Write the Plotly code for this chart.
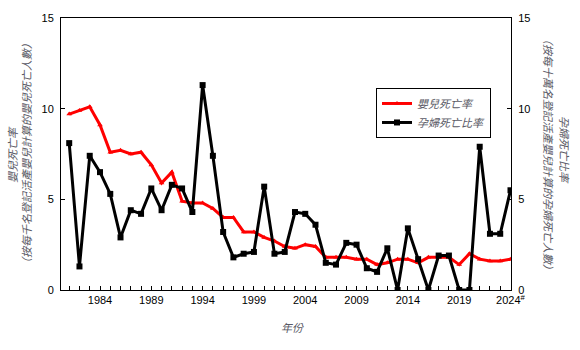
import plotly.graph_objects as go

years = list(range(1981, 2025))
infant = [9.7, 9.9, 10.1, 9.1, 7.6, 7.7, 7.5, 7.6, 6.9, 5.9,
          6.5, 4.9, 4.8, 4.8, 4.5, 4.0, 4.0, 3.2, 3.2, 2.9,
          2.7, 2.4, 2.3, 2.5, 2.4, 1.8, 1.8, 1.8, 1.7, 1.7,
          1.4, 1.5, 1.7, 1.7, 1.5, 1.8, 1.8, 1.8, 1.4, 2.0,
          1.7, 1.6, 1.6, 1.7]
maternal = [8.1, 1.3, 7.4, 6.5, 5.3, 2.9, 4.4, 4.2, 5.6, 4.4,
            5.8, 5.6, 4.3, 11.3, 7.4, 3.2, 1.8, 2.0, 2.1, 5.7,
            2.0, 2.1, 4.3, 4.2, 3.6, 1.5, 1.4, 2.6, 2.5, 1.2,
            1.0, 2.3, 0.0, 3.4, 1.7, 0.0, 1.9, 1.9, 0.0, 0.0,
            7.9, 3.1, 3.1, 5.5]
label_years = [1984, 1989, 1994, 1999, 2004, 2009, 2014, 2019, 2024]
tick_text = [("2024<sup>#</sup>" if y == 2024 else str(y)) if y in label_years else "" for y in years]
yticks = [0, 5, 10, 15]

name_infant = "嬰兒死亡率"
name_maternal = "孕婦死亡比率"
left_title_1 = "嬰兒死亡率"
left_title_2 = "（按每千名登記活產嬰兒計算的嬰兒死亡人數）"
right_title_1 = "孕婦死亡比率"
right_title_2 = "（按每十萬名登記活產嬰兒計算的孕婦死亡人數）"
x_title = "年份"

cjk = "Noto Sans CJK TC"
title_color = "#5a5a66"
tfont = dict(family=cjk, size=11, color=title_color, style="italic")

fig = go.Figure()
fig.add_trace(go.Scatter(
    x=years, y=infant, name=name_infant, mode="lines+markers",
    line=dict(color="#ff0000", width=3),
    marker=dict(symbol="triangle-up", size=5, color="#ff0000"),
    yaxis="y"))
fig.add_trace(go.Scatter(
    x=years, y=maternal, name=name_maternal, mode="lines+markers",
    line=dict(color="#000000", width=3),
    marker=dict(symbol="square", size=6, color="#000000"),
    yaxis="y2"))

axis_font = dict(family="Liberation Sans, Arial", size=11, color="#000")

pw, ph = 580 - 61 - 69, 350 - 14 - 60
def px(x):
    return (x - 61) / pw
def py(y):
    return (290 - y) / ph

fig.update_layout(
    width=580, height=350,
    margin=dict(l=61, r=69, t=14, b=60),
    plot_bgcolor="white", paper_bgcolor="white",
    showlegend=True,
    legend=dict(x=px(376), y=py(85), xanchor="left", yanchor="top",
                bordercolor="black", borderwidth=1, bgcolor="white",
                font=dict(family=cjk, size=11, color=title_color, style="italic"),
                tracegroupgap=0, itemwidth=30),
    xaxis=dict(range=[1980.2, 2024.05], tickmode="array", tickvals=years, ticktext=tick_text,
               ticks="inside", ticklen=4, tickcolor="black", showline=True, linecolor="black",
               linewidth=1, mirror=True, showgrid=False, zeroline=False, tickfont=axis_font),
    yaxis=dict(range=[0, 15], tickvals=yticks, ticks="inside", ticklen=4, tickcolor="black",
               showline=True, linecolor="black", linewidth=1, showgrid=False, zeroline=False,
               tickfont=axis_font, ticklabelstandoff=4),
    yaxis2=dict(range=[0, 15], tickvals=yticks, ticks="inside", ticklen=4, tickcolor="black",
                overlaying="y", side="right", showline=True, linecolor="black", linewidth=1,
                showgrid=False, zeroline=False, tickfont=axis_font, ticklabelstandoff=4),
    annotations=[
        dict(text=left_title_1, textangle=-90, x=px(12), y=py(153), xref="paper", yref="paper",
             xanchor="center", yanchor="middle", showarrow=False, font=tfont),
        dict(text=left_title_2, textangle=-90, x=px(26), y=py(152), xref="paper", yref="paper",
             xanchor="center", yanchor="middle", showarrow=False, font=tfont),
        dict(text=right_title_1, textangle=90, x=px(565), y=py(148), xref="paper", yref="paper",
             xanchor="center", yanchor="middle", showarrow=False, font=tfont),
        dict(text=right_title_2, textangle=90, x=px(549), y=py(152), xref="paper", yref="paper",
             xanchor="center", yanchor="middle", showarrow=False, font=tfont),
        dict(text=x_title, x=px(292), y=py(328), xref="paper", yref="paper",
             xanchor="center", yanchor="middle", showarrow=False, font=tfont),
    ],
)

fig.write_html("out.html")
